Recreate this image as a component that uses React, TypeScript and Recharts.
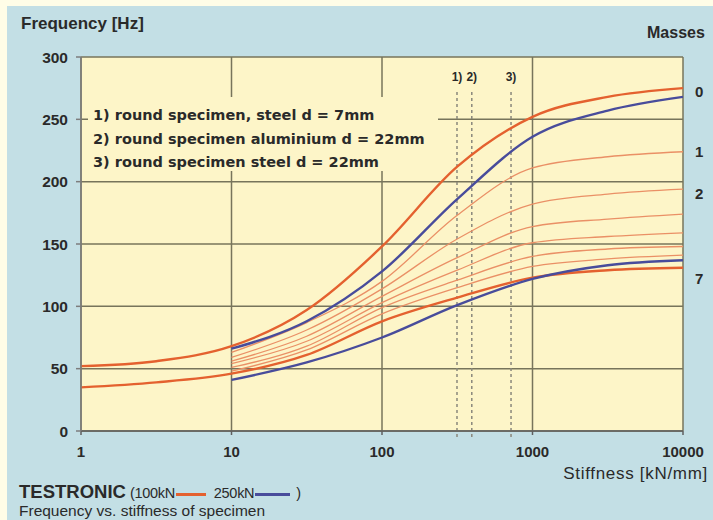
import React from 'react';
import { LineChart, Line, XAxis, YAxis, CartesianGrid, ReferenceLine, ReferenceDot } from 'recharts';

// Stiffness of specimen [kN/mm] (log axis)
const STIFFNESS = [1, 3.16, 10, 31.6, 100, 316, 1000, 3162, 10000];

// TESTRONIC 100kN (orange) – masses 0..7
const F100_M0 = [52, 56, 68, 97, 148, 212, 252, 268, 275];
const F100_M1 = [null, null, 63, 87, 120, 173, 211, 220, 224];
const F100_M2 = [null, null, 59, 81, 114, 154, 182, 190, 194];
const F100_M3 = [null, null, 56, 76, 108, 139, 164, 170, 174];
const F100_M4 = [null, null, 54, 72, 103, 129, 151, 156, 159];
const F100_M5 = [null, null, 51, 68, 99, 121, 140, 146, 148];
const F100_M6 = [null, null, 48, 65, 94, 115, 132, 138, 141];
const F100_M7 = [35, 39, 46, 61, 88, 107, 123, 129, 131];

// TESTRONIC 250kN (blue) – masses 0 and 7
const F250_M0 = [null, null, 66, 88, 128, 186, 236, 257, 268];
const F250_M7 = [null, null, 41, 55, 75, 101, 122, 133, 137];

const X_TICKS = [1, 10, 100, 1000, 10000];
const Y_TICKS = [0, 50, 100, 150, 200, 250, 300];

// mass labels on the right side
const MASS_LABEL_VALUES = [272, 224, 190, 122];
const MASS_LABELS = ['0', '1', '2', '7'];

// specimen reference stiffnesses
const SPECIMEN_STIFFNESS = [315, 395, 720];
const SPECIMEN_LABELS = ['1)', '2)', '3)'];
const SPECIMEN_TEXT = [
  '1) round specimen, steel d = 7mm',
  '2) round specimen aluminium d = 22mm',
  '3) round specimen steel d = 22mm',
];

const rows = STIFFNESS.map((x, i) => ({
  x,
  o0: F100_M0[i],
  o1: F100_M1[i],
  o2: F100_M2[i],
  o3: F100_M3[i],
  o4: F100_M4[i],
  o5: F100_M5[i],
  o6: F100_M6[i],
  o7: F100_M7[i],
  b0: F250_M0[i],
  b7: F250_M7[i],
}));

const ORANGE = '#E4612F';
const ORANGE_THIN = '#EA9066';
const BLUE = '#484C9B';
const PLOT_BG = '#FDF5C8';
const PANEL = '#C3DFE5';
const OUTER = '#FFFDE7';
const GRID = '#77745B';
const TEXT = '#2A2A2A';
const FONT = '"Liberation Sans", Arial, sans-serif';

const thinKeys = ['o1', 'o2', 'o3', 'o4', 'o5', 'o6'];

export default function App() {
  return (
    <div style={{ position: 'absolute', left: 0, top: 0, width: 713, height: 520, background: OUTER, fontFamily: FONT, overflow: 'hidden' }}>
      <div style={{ position: 'absolute', left: 7, top: 6, width: 706, height: 514, background: PANEL }} />
      <div style={{ position: 'absolute', left: 0, top: 0 }}>
        <LineChart width={713} height={520} data={rows} margin={{ top: 57, right: 30, left: 0, bottom: 0 }}>
          <CartesianGrid stroke={GRID} strokeWidth={1.5} fill={PLOT_BG} fillOpacity={1} />
          <XAxis
            dataKey="x"
            type="number"
            scale="log"
            domain={[1, 10000]}
            ticks={X_TICKS}
            allowDataOverflow
            height={89}
            tickSize={4}
            tickMargin={11}
            stroke="#5f5f5f"
            strokeWidth={1.5}
            tick={{ fontSize: 15, fontWeight: 'bold', fill: TEXT, fontFamily: FONT }}
          />
          <YAxis
            type="number"
            domain={[0, 300]}
            ticks={Y_TICKS}
            width={81}
            tickSize={5}
            tickMargin={8}
            stroke="#7d7d7d"
            strokeWidth={1.5}
            tick={{ fontSize: 15.5, fontWeight: 'bold', fill: TEXT, fontFamily: FONT }}
          />
          {SPECIMEN_STIFFNESS.map((s, i) => (
            <ReferenceLine
              key={'rl' + i}
              segment={[{ x: s, y: 272 }, { x: s, y: -7 }]}
              stroke="#8a887c"
              strokeWidth={1.5}
              strokeDasharray="3 3"
              ifOverflow="visible"
            />
          ))}
          {SPECIMEN_STIFFNESS.map((s, i) => (
            <ReferenceDot
              key={'rd' + i}
              x={s}
              y={284}
              r={0}
              fill="none"
              stroke="none"
              ifOverflow="visible"
              label={{ value: SPECIMEN_LABELS[i], position: 'center', fontSize: 12, fontWeight: 'bold', fill: TEXT, fontFamily: FONT }}
            />
          ))}
          {MASS_LABEL_VALUES.map((v, i) => (
            <ReferenceDot
              key={'ml' + i}
              x={10000}
              y={v}
              r={0}
              fill="none"
              stroke="none"
              ifOverflow="visible"
              label={{ value: MASS_LABELS[i], position: 'right', offset: 12, fontSize: 15, fontWeight: 'bold', fill: TEXT, fontFamily: FONT }}
            />
          ))}
          {thinKeys.map((k) => (
            <Line key={k} dataKey={k} type="monotone" stroke={ORANGE_THIN} strokeWidth={1.3} dot={false} isAnimationActive={false} />
          ))}
          <Line dataKey="o7" type="monotone" stroke={ORANGE} strokeWidth={2.4} dot={false} isAnimationActive={false} />
          <Line dataKey="b7" type="monotone" stroke={BLUE} strokeWidth={2.4} dot={false} isAnimationActive={false} />
          <Line dataKey="o0" type="monotone" stroke={ORANGE} strokeWidth={2.4} dot={false} isAnimationActive={false} />
          <Line dataKey="b0" type="monotone" stroke={BLUE} strokeWidth={2.4} dot={false} isAnimationActive={false} />
        </LineChart>
      </div>
      <svg width={713} height={520} style={{ position: 'absolute', left: 0, top: 0, pointerEvents: 'none' }}>
        <text x={21} y={29} fontSize={17} fontWeight="bold" fill={TEXT} fontFamily={FONT}>Frequency [Hz]</text>
        <text x={647} y={38} fontSize={16} fontWeight="bold" fill={TEXT} fontFamily={FONT}>Masses</text>
        <rect x={88} y={97} width={350} height={74} fill={PLOT_BG} />
        {SPECIMEN_TEXT.map((t, i) => (
          <text key={t} x={93} y={120 + i * 23.5} fontSize={14.5} fontWeight="bold" fill={TEXT} fontFamily='"DejaVu Sans", Verdana, sans-serif'>{t}</text>
        ))}
        <text x={708} y={479} fontSize={17} letterSpacing={0.7} textAnchor="end" fill={TEXT} fontFamily={FONT}>Stiffness [kN/mm]</text>
        <text x={19} y={516} fontSize={15.5} fill={TEXT} fontFamily={FONT}>Frequency vs. stiffness of specimen</text>
      </svg>
      <div style={{ position: 'absolute', left: 19, top: 481, display: 'flex', alignItems: 'baseline', color: TEXT, whiteSpace: 'nowrap' }}>
        <span style={{ fontSize: 18.5, fontWeight: 'bold' }}>TESTRONIC</span>
        <span style={{ fontSize: 14.5, marginLeft: 4, letterSpacing: -0.3 }}>(100kN</span>
        <span style={{ display: 'inline-block', width: 30, height: 3, background: ORANGE, marginLeft: 1, alignSelf: 'center', marginTop: 4 }} />
        <span style={{ fontSize: 14.5, marginLeft: 8, letterSpacing: -0.3 }}>250kN</span>
        <span style={{ display: 'inline-block', width: 35, height: 3, background: BLUE, marginLeft: 1, alignSelf: 'center', marginTop: 4 }} />
        <span style={{ fontSize: 14.5, marginLeft: 6 }}>)</span>
      </div>
    </div>
  );
}
